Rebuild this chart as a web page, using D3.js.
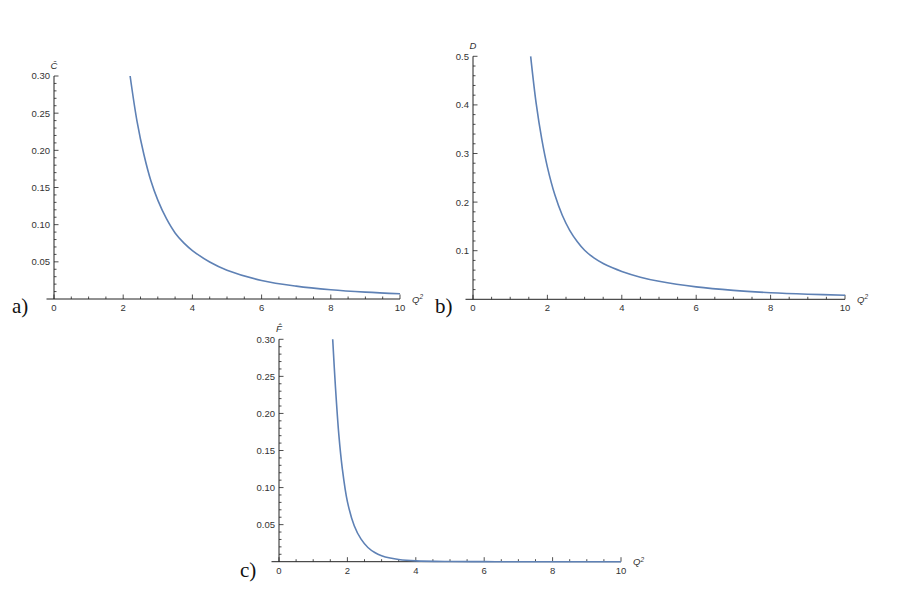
<!DOCTYPE html>
<html>
<head>
<meta charset="utf-8">
<script src="https://cdn.jsdelivr.net/npm/d3@7"></script>
<style>
  html, body { margin: 0; padding: 0; background: #fff; }
  svg { display: block; }
  .tick-label { font-family: "Liberation Sans", Arial, sans-serif; font-size: 9.5px; fill: #333; }
  .axis-title { font-family: "Liberation Sans", Arial, sans-serif; font-size: 9.5px; font-style: italic; fill: #333; }
  .panel-letter { font-family: "Liberation Serif", "DejaVu Serif", serif; font-size: 21px; fill: #111; }
</style>
</head>
<body>
<svg id="chart" width="911" height="607"></svg>
<script>
// ---- Data ----
const xTickValues = [0, 2, 4, 6, 8, 10];

// Panel a: C-hat vs Q^2
const qA = [2.2, 2.4, 2.6, 2.8, 3.0, 3.25, 3.5, 3.75, 4.0, 4.5, 5.0, 6.0, 7.0, 8.0, 9.0, 10.0];
const cA = [0.300, 0.239, 0.194, 0.159, 0.133, 0.108, 0.0889, 0.0755, 0.0652, 0.0498, 0.0388, 0.0250, 0.0173, 0.0124, 0.0092, 0.0070];
const yTicksA = [0.05, 0.10, 0.15, 0.20, 0.25, 0.30];

// Panel b: D vs Q^2
const qB = [1.55, 1.7, 1.85, 2.0, 2.2, 2.4, 2.6, 2.8, 3.0, 3.25, 3.5, 3.75, 4.0, 4.5, 5.0, 6.0, 7.0, 8.0, 9.0, 10.0];
const dB = [0.500, 0.402, 0.329, 0.272, 0.215, 0.173, 0.142, 0.119, 0.101, 0.0852, 0.0737, 0.0648, 0.0574, 0.0455, 0.0370, 0.0255, 0.0183, 0.0136, 0.0105, 0.0083];
const yTicksB = [0.1, 0.2, 0.3, 0.4, 0.5];

// Panel c: F-hat vs Q^2
const qC = [1.57, 1.65, 1.75, 1.85, 2.0, 2.2, 2.4, 2.6, 2.8, 3.0, 3.25, 3.5, 4.0, 5.0, 6.0, 7.0, 8.0, 9.0, 10.0];
const fC = [0.300, 0.236, 0.171, 0.126, 0.081, 0.0486, 0.0304, 0.0192, 0.0124, 0.0081, 0.0049, 0.0029, 0.00107, 0.00018, 0.00004, 0.00001, 0.000003, 0.000001, 0.0];
const yTicksC = [0.05, 0.10, 0.15, 0.20, 0.25, 0.30];

// ---- Drawing ----
const svg = d3.select("#chart");
const lineColor = "#5E81B5";
const axisColor = "#222";

function drawPanel(opt) {
  const x = d3.scaleLinear().domain([0, 10]).range([opt.x0, opt.x1]);
  const y = d3.scaleLinear().domain([0, opt.ymax]).range([opt.y0, opt.y1]);
  const g = svg.append("g");

  // minor/major ticks on x axis (every 0.5), pointing up
  const xMinor = d3.range(0, 10.001, 0.5);
  g.selectAll(".xminor").data(xMinor).enter().append("line")
    .attr("x1", d => x(d)).attr("x2", d => x(d))
    .attr("y1", opt.y0).attr("y2", d => opt.y0 - (Math.abs(d % 2) < 1e-6 ? 4.5 : 2.5))
    .attr("stroke", axisColor).attr("stroke-width", 0.8);

  // minor/major ticks on y axis, pointing right
  const yMinor = d3.range(opt.ystep / 5, opt.ymax + 1e-9, opt.ystep / 5);
  g.selectAll(".yminor").data(yMinor).enter().append("line")
    .attr("x1", opt.x0).attr("x2", (d, i) => opt.x0 + ((i + 1) % 5 === 0 ? 4.5 : 2.5))
    .attr("y1", d => y(d)).attr("y2", d => y(d))
    .attr("stroke", axisColor).attr("stroke-width", 0.8);

  // axes lines
  g.append("line").attr("x1", opt.x0 - 7.5).attr("x2", opt.x1)
    .attr("y1", opt.y0).attr("y2", opt.y0)
    .attr("stroke", axisColor).attr("stroke-width", 1);
  g.append("line").attr("x1", opt.x0).attr("x2", opt.x0)
    .attr("y1", opt.y0).attr("y2", opt.y1)
    .attr("stroke", axisColor).attr("stroke-width", 1);

  // x tick labels
  g.selectAll(".xl").data(xTickValues).enter().append("text")
    .attr("class", "tick-label")
    .attr("x", d => x(d)).attr("y", opt.y0 + 12)
    .attr("text-anchor", "middle")
    .text(d => d);

  // y tick labels
  g.selectAll(".yl").data(opt.yTicks).enter().append("text")
    .attr("class", "tick-label")
    .attr("x", opt.x0 - 4).attr("y", d => y(d) + 3.4)
    .attr("text-anchor", "end")
    .text(d => d3.format(opt.fmt)(d));

  // curve
  const line = d3.line().x(d => x(d[0])).y(d => y(d[1])).curve(d3.curveCatmullRom.alpha(0.5));
  g.append("path")
    .datum(d3.zip(opt.qs, opt.vs))
    .attr("d", line)
    .attr("fill", "none")
    .attr("stroke", lineColor)
    .attr("stroke-width", 1.6);

  // axis titles
  g.append("text").attr("class", "axis-title")
    .attr("x", opt.x0).attr("y", opt.y1 - 7.5)
    .attr("text-anchor", "middle")
    .text(opt.ytitle);

  const xt = g.append("text").attr("class", "axis-title")
    .attr("x", opt.x1 + 12).attr("y", opt.y0 + 3.5);
  xt.append("tspan").text("Q");
  xt.append("tspan").attr("font-size", "6.5px").attr("dy", -3.5).text("2");

  // panel letter
  g.append("text").attr("class", "panel-letter")
    .attr("x", opt.lx).attr("y", opt.ly)
    .text(opt.letter);
}

drawPanel({ x0: 54, x1: 400, y0: 299, y1: 76, ymax: 0.30, ystep: 0.05,
  yTicks: yTicksA, fmt: ".2f", qs: qA, vs: cA, ytitle: "C\u0302",
  letter: "a)", lx: 12, ly: 313 });

drawPanel({ x0: 473, x1: 845, y0: 299.3, y1: 56.3, ymax: 0.5, ystep: 0.1,
  yTicks: yTicksB, fmt: ".1f", qs: qB, vs: dB, ytitle: "D",
  letter: "b)", lx: 435, ly: 313 });

drawPanel({ x0: 279, x1: 621, y0: 561.7, y1: 339.3, ymax: 0.30, ystep: 0.05,
  yTicks: yTicksC, fmt: ".2f", qs: qC, vs: fC, ytitle: "F\u0302",
  letter: "c)", lx: 240, ly: 577 });
</script>
</body>
</html>
